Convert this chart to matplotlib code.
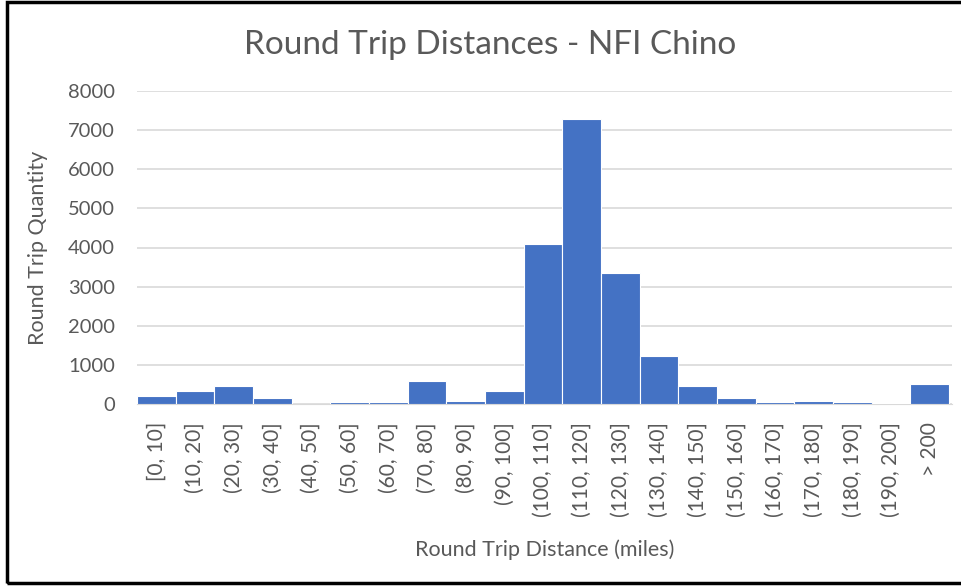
import matplotlib.pyplot as plt
from matplotlib.patches import Rectangle

# bins and counts
categories = ['[0, 10]', '(10, 20]', '(20, 30]', '(30, 40]', '(40, 50]', '(50, 60]',
              '(60, 70]', '(70, 80]', '(80, 90]', '(90, 100]', '(100, 110]', '(110, 120]',
              '(120, 130]', '(130, 140]', '(140, 150]', '(150, 160]', '(160, 170]',
              '(170, 180]', '(180, 190]', '(190, 200]', '> 200']
counts = [215, 320, 457, 155, 5, 52, 52, 586, 86, 320, 4100, 7280,
          3350, 1224, 457, 155, 52, 86, 52, 30, 517]
y_ticks = [0, 1000, 2000, 3000, 4000, 5000, 6000, 7000, 8000]

txt = '#595959'
plt.rcParams['font.family'] = ['Lato', 'DejaVu Sans']

fig = plt.figure(figsize=(9.62, 5.86), dpi=100)
ax = fig.add_axes([137/962, 1 - 404/586, (952 - 137)/962, (404 - 91)/586])

ax.bar(range(len(categories)), counts, width=1.0, color='#4472C4', edgecolor='white', linewidth=0.8, zorder=3)
ax.set_xlim(-0.5, len(categories) - 0.5 + 0.08)
ax.set_ylim(0, 8000)
ax.set_yticks(y_ticks)
ax.set_yticklabels([str(v) for v in y_ticks], fontsize=14.5, color=txt)
ax.set_xticks(range(len(categories)))
ax.set_xticklabels(categories, rotation=90, fontsize=15, color=txt)
ax.tick_params(axis='y', length=0, pad=16)
ax.tick_params(axis='x', length=0, pad=13)
ax.grid(axis='y', color='#D9D9D9', linewidth=1.2, zorder=0)
for s in ['top', 'right', 'left']:
    ax.spines[s].set_visible(False)
ax.spines['bottom'].set_color('#D9D9D9')

ax.set_ylabel('Round Trip Quantity', fontsize=15.5, color=txt, labelpad=14)
ax.set_xlabel('Round Trip Distance (miles)', fontsize=15.5, color=txt, labelpad=16)
fig.text(490/962, 1 - 45/586, 'Round Trip Distances - NFI Chino', fontsize=24, color=txt, ha='center', va='center')

# black frame around the chart (right edge cropped off)
fig.patches.append(Rectangle((7/962, 3/586), 1.0, 581/586, transform=fig.transFigure,
                             fill=False, edgecolor='black', linewidth=2.5))

fig.savefig('out.png', dpi=100)
